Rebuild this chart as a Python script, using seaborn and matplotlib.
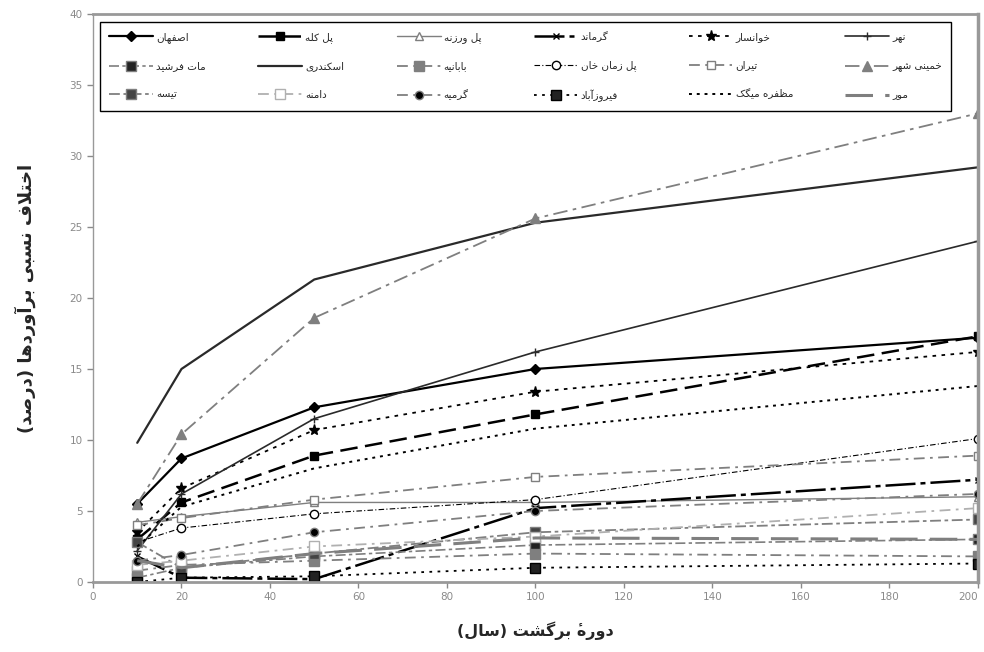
import matplotlib
matplotlib.use("Agg")
import matplotlib.pyplot as plt
import seaborn as sns

# return periods (years)
return_period = [10, 20, 50, 100, 200]

# relative difference of estimates (%) per station
isfahan = [5.5, 8.7, 12.3, 15.0, 17.2]
pol_kaleh = [3.0, 5.6, 8.9, 11.8, 17.3]
pol_varzaneh = [4.2, 4.6, 5.6, 5.6, 6.0]
garmand = [1.8, 0.3, 0.2, 5.2, 7.2]
khansar = [3.5, 6.6, 10.7, 13.4, 16.2]
nahr = [2.2, 6.2, 11.5, 16.2, 24.0]
mat_farshid = [0.3, 1.0, 1.8, 2.6, 3.0]
eskandari = [9.8, 15.0, 21.3, 25.3, 29.2]
babanieh = [0.8, 1.2, 1.5, 2.0, 1.8]
pol_zamankhan = [2.8, 3.8, 4.8, 5.8, 10.1]
tiran = [4.0, 4.5, 5.8, 7.4, 8.9]
khomeini_shahr = [5.5, 10.4, 18.6, 25.6, 33.0]
tiseh = [2.8, 1.0, 2.0, 3.5, 4.4]
damaneh = [1.2, 1.5, 2.5, 3.2, 5.2]
garmieh = [1.5, 1.9, 3.5, 5.0, 6.2]
firuzabad = [0.0, 0.3, 0.4, 1.0, 1.3]
mozaffareh = [2.5, 5.3, 8.0, 10.8, 13.8]
mur = [1.5, 1.0, 2.0, 3.1, 3.0]

station_names = [
    "اصفهان", "پل کله", "پل ورزنه", "گرماند", "خوانسار", "نهر",
    "مات فرشید", "اسکندری", "بابانیه", "پل زمان خان", "تیران", "خمینی شهر",
    "تیسه", "دامنه", "گرمیه", "فیروزآباد", "مظفره میگک", "مور",
]
station_values = [
    isfahan, pol_kaleh, pol_varzaneh, garmand, khansar, nahr,
    mat_farshid, eskandari, babanieh, pol_zamankhan, tiran, khomeini_shahr,
    tiseh, damaneh, garmieh, firuzabad, mozaffareh, mur,
]

x_label = "دورهٔ برگشت (سال)"
y_label = "اختلاف نسبی برآوردها (درصد)"

# line style per station: colour, linestyle, width, marker, face colour, size
K, DG, G, LG = "#000000", "#2a2a2a", "#7f7f7f", "#b0b0b0"
styles = [
    (K, "-", 1.6, "D", K, 5),
    (K, (0, (7, 3)), 1.8, "s", K, 6),
    (G, "-", 1.0, "^", "white", 6),
    (K, (0, (12, 2, 2, 2)), 1.8, "x", K, 5),
    (K, (0, (2, 3)), 1.3, "*", K, 8),
    (DG, "-", 1.2, "+", DG, 6),
    (G, (0, (6, 2, 2, 2)), 1.2, "s", "#222222", 7),
    (DG, "-", 1.6, None, DG, 0),
    (G, (0, (6, 3, 1.5, 3)), 1.3, "s", G, 7),
    (K, (0, (5, 2, 1, 2)), 0.8, "o", "white", 6),
    (G, (0, (6, 3, 1.5, 3)), 1.3, "s", "white", 6),
    (G, (0, (8, 3, 2, 3)), 1.3, "^", G, 7),
    (G, (0, (6, 2, 2, 2)), 1.3, "s", "#444444", 7),
    (LG, (0, (6, 3, 1.5, 3)), 1.3, "s", "white", 7),
    (G, (0, (6, 3, 1.5, 3)), 1.3, "o", K, 6),
    (K, (0, (1.5, 3)), 1.3, "s", "#222222", 7),
    (K, (0, (1.5, 2.5)), 1.4, None, K, 0),
    (G, (0, (9, 4)), 2.2, None, G, 0),
]

# Persian letters -> presentation forms (isolated, final, initial, medial)
FORMS = {
    "ا": (0xFE8D, 0xFE8E), "آ": (0xFE81, 0xFE82),
    "ب": (0xFE8F, 0xFE90, 0xFE91, 0xFE92), "پ": (0xFB56, 0xFB57, 0xFB58, 0xFB59),
    "ت": (0xFE95, 0xFE96, 0xFE97, 0xFE98), "ث": (0xFE99, 0xFE9A, 0xFE9B, 0xFE9C),
    "ج": (0xFE9D, 0xFE9E, 0xFE9F, 0xFEA0), "چ": (0xFB7A, 0xFB7B, 0xFB7C, 0xFB7D),
    "ح": (0xFEA1, 0xFEA2, 0xFEA3, 0xFEA4), "خ": (0xFEA5, 0xFEA6, 0xFEA7, 0xFEA8),
    "د": (0xFEA9, 0xFEAA), "ذ": (0xFEAB, 0xFEAC), "ر": (0xFEAD, 0xFEAE),
    "ز": (0xFEAF, 0xFEB0), "ژ": (0xFB8A, 0xFB8B),
    "س": (0xFEB1, 0xFEB2, 0xFEB3, 0xFEB4), "ش": (0xFEB5, 0xFEB6, 0xFEB7, 0xFEB8),
    "ص": (0xFEB9, 0xFEBA, 0xFEBB, 0xFEBC), "ض": (0xFEBD, 0xFEBE, 0xFEBF, 0xFEC0),
    "ط": (0xFEC1, 0xFEC2, 0xFEC3, 0xFEC4), "ظ": (0xFEC5, 0xFEC6, 0xFEC7, 0xFEC8),
    "ع": (0xFEC9, 0xFECA, 0xFECB, 0xFECC), "غ": (0xFECD, 0xFECE, 0xFECF, 0xFED0),
    "ف": (0xFED1, 0xFED2, 0xFED3, 0xFED4), "ق": (0xFED5, 0xFED6, 0xFED7, 0xFED8),
    "ک": (0xFB8E, 0xFB8F, 0xFB90, 0xFB91), "گ": (0xFB92, 0xFB93, 0xFB94, 0xFB95),
    "ل": (0xFEDD, 0xFEDE, 0xFEDF, 0xFEE0), "م": (0xFEE1, 0xFEE2, 0xFEE3, 0xFEE4),
    "ن": (0xFEE5, 0xFEE6, 0xFEE7, 0xFEE8), "و": (0xFEED, 0xFEEE),
    "ه": (0xFEE9, 0xFEEA, 0xFEEB, 0xFEEC), "ی": (0xFBFC, 0xFBFD, 0xFBFE, 0xFBFF),
}
LAM_ALEF = {"ا": (0xFEFB, 0xFEFC), "آ": (0xFEF5, 0xFEF6)}


def fa(text):
    """Shape Persian text and reverse it, since matplotlib has no bidi support."""
    out = []
    i = 0
    n = len(text)
    while i < n:
        c = text[i]
        if c not in FORMS:
            out.append(c)
            i += 1
            continue
        prev = text[i - 1] if i > 0 else None
        joined_before = prev in FORMS and len(FORMS[prev]) == 4
        nxt = text[i + 1] if i + 1 < n else None
        if c == "ل" and nxt in LAM_ALEF:
            out.append(chr(LAM_ALEF[nxt][1 if joined_before else 0]))
            i += 2
            continue
        f = FORMS[c]
        joins_after = len(f) == 4 and nxt in FORMS
        if joined_before and joins_after:
            out.append(chr(f[3]))
        elif joined_before:
            out.append(chr(f[1]))
        elif joins_after:
            out.append(chr(f[2]))
        else:
            out.append(chr(f[0]))
        i += 1
    s = "".join(reversed(out))
    return s.translate(str.maketrans("()", ")("))


sns.set_theme(style="white")
plt.rcParams["font.family"] = ["DejaVu Sans"]

fig = plt.figure(figsize=(9.84, 6.52), dpi=100)
ax = fig.add_axes([0.0945, 0.1074, 0.8994, 0.8712])

handles = []
for name, vals, st in zip(station_names, station_values, styles):
    color, ls, lw, mk, mfc, ms = st
    sns.lineplot(x=return_period, y=vals, ax=ax, color=color, linestyle=ls,
                 linewidth=lw, marker=mk, markersize=ms, markerfacecolor=mfc,
                 markeredgecolor=color, markeredgewidth=1.0,
                 label=fa(name), legend=False)
    handles.append(ax.lines[-1])

ax.set_xlim(0, 200)
ax.set_ylim(0, 40)
ax.set_xticks(range(0, 201, 20))
ax.set_yticks(range(0, 41, 5))
ax.tick_params(axis="both", colors="#8a8a8a", labelsize=7.5, length=4,
               width=1, direction="out", bottom=True, left=True)
# last x label sits at the figure edge; keep it inside
ax.get_xticklabels()[-1].set_horizontalalignment("right")
ax.set_xlabel(fa(x_label), fontsize=11.5, fontweight="bold", labelpad=14)
ax.set_ylabel(fa(y_label), fontsize=13, fontweight="bold", labelpad=24)

for side, w in (("left", 1.0), ("bottom", 2.0), ("right", 2.5), ("top", 2.0)):
    ax.spines[side].set_color("#999999")
    ax.spines[side].set_linewidth(w)

# matplotlib fills legend columns first, so reorder to get the row layout
ncol, nrow = 6, 3
order = [r * ncol + c for c in range(ncol) for r in range(nrow)]
leg = ax.legend([handles[i] for i in order],
                [handles[i].get_label() for i in order],
                ncol=ncol, loc="upper left", mode="expand",
                bbox_to_anchor=(0.008, 0.986, 0.962, 0.0), borderaxespad=0,
                fontsize=7.5, handlelength=4.2, handletextpad=0.3,
                labelspacing=1.75, borderpad=0.9, fancybox=False,
                framealpha=1, edgecolor="black")
leg.get_frame().set_linewidth(1.0)

fig.savefig("out.png", dpi=100)
